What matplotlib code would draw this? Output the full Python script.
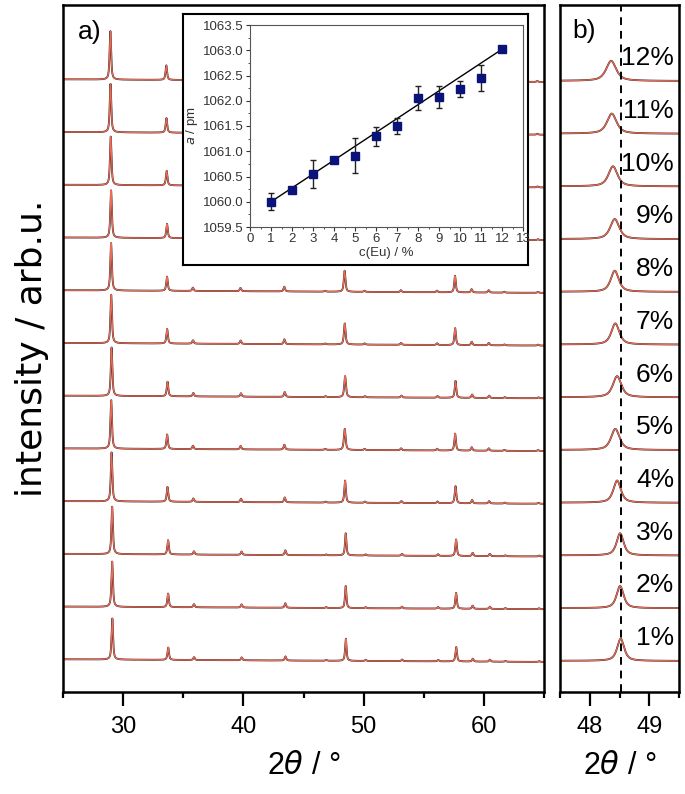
import matplotlib.pyplot as plt
import numpy as np
from matplotlib.ticker import MultipleLocator, FormatStrFormatter

plt.rcParams['font.family'] = ['Liberation Sans', 'DejaVu Sans']
plt.rcParams['mathtext.fontset'] = 'dejavusans'

# samples (Eu content, %)
conc = [1, 2, 3, 4, 5, 6, 7, 8, 9, 10, 11, 12]
labels = ['1%', '2%', '3%', '4%', '5%', '6%', '7%', '8%', '9%', '10%', '11%', '12%']

# reflections (2theta, relative height)
peak_pos = [29.1, 33.75, 35.9, 39.86, 43.5, 46.9, 48.52, 50.17, 53.2, 56.2, 57.7, 59.08, 60.5, 61.8, 64.6]
peak_rel = [1.0, 0.30, 0.07, 0.07, 0.10, 0.02, 0.55, 0.025, 0.04, 0.035, 0.35, 0.07, 0.05, 0.02, 0.02]

# per sample: height of the strongest peak, position / width / height of the (440) peak
main_height = [0.78, 0.86, 0.90, 0.93, 0.92, 0.92, 0.92, 0.90, 0.90, 0.92, 0.92, 0.92]
pos_440 = [48.52, 48.51, 48.51, 48.46, 48.43, 48.46, 48.43, 48.42, 48.42, 48.39, 48.37, 48.36]
fwhm_440 = [0.14, 0.14, 0.14, 0.15, 0.17, 0.17, 0.16, 0.16, 0.18, 0.18, 0.19, 0.20]
height_440 = [0.42, 0.42, 0.42, 0.42, 0.40, 0.40, 0.40, 0.40, 0.38, 0.38, 0.38, 0.38]
ref_440 = 48.52

# inset: lattice parameter
c_eu = [1, 2, 3, 4, 5, 6, 7, 8, 9, 10, 11, 12]
a_pm = [1060.00, 1060.24, 1060.55, 1060.82, 1060.91, 1061.30, 1061.50, 1062.05, 1062.08, 1062.24, 1062.45, 1063.02]
a_err = [0.17, 0.03, 0.27, 0.04, 0.35, 0.19, 0.15, 0.24, 0.22, 0.16, 0.25, 0.03]
fit_x = [1, 12]
fit_y = [1060.0, 1063.02]

red = '#ee6a55'
fw_main = 0.15
eta = 0.7


def profile(x, i):
    y = 0.05 - 0.05 * (x - 25) / 40
    shift = pos_440[i] - ref_440
    for p, r in zip(peak_pos, peak_rel):
        if p == ref_440:
            x0, w, h = pos_440[i], fwhm_440[i], height_440[i]
        else:
            x0, w, h = p + shift, fw_main, r * main_height[i]
        u = (x - x0) / (w / 2)
        y = y + h * (eta / (1 + u ** 2) + (1 - eta) * np.exp(-np.log(2) * u ** 2))
    return y


fig = plt.figure(figsize=(6.85, 7.94), dpi=100)
W, H = 685, 794


def box(l, t, r, b):
    return [l / W, 1 - b / H, (r - l) / W, (b - t) / H]


ax = fig.add_axes(box(63, 5, 544, 692))
axb = fig.add_axes(box(560, 5, 679, 692))

xa = np.linspace(25, 65, 4001)
xb = np.linspace(47.5, 49.5, 801)
for i in range(len(conc)):
    ya = profile(xa, i) + i
    yb = profile(xb, i) + i
    ax.plot(xa, ya, color='#222222', lw=1.3)
    ax.plot(xa, ya, color=red, lw=0.9)
    axb.plot(xb, yb, color='#222222', lw=1.3)
    axb.plot(xb, yb, color=red, lw=0.9)
    axb.text(49.42, i + 0.45, labels[i], ha='right', va='center', fontsize=19)

axb.axvline(ref_440, color='black', ls=(0, (4, 3)), lw=1.4)

for a in (ax, axb):
    a.set_ylim(-0.57, 12.46)
    a.set_yticks([])
    for s in a.spines.values():
        s.set_linewidth(1.8)
    a.tick_params(axis='x', which='major', direction='out', length=10, width=1.6,
                  labelsize=17, pad=7, top=False)
    a.tick_params(axis='x', which='minor', direction='out', length=4.5, width=1.6, top=False)
    a.set_xlabel('2$\\theta$ / °', fontsize=22, labelpad=10)

ax.set_xlim(25, 65)
ax.xaxis.set_major_locator(MultipleLocator(10))
ax.xaxis.set_minor_locator(MultipleLocator(5))
ax.set_ylabel('intensity / arb.u.', fontsize=26, family='DejaVu Sans', labelpad=10)
ax.text(0.03, 0.96, 'a)', transform=ax.transAxes, fontsize=19, va='center')

axb.set_xlim(47.5, 49.5)
axb.xaxis.set_major_locator(MultipleLocator(1))
axb.xaxis.set_minor_locator(MultipleLocator(0.5))
axb.text(0.10, 0.962, 'b)', transform=axb.transAxes, fontsize=19, va='center')

# inset with frame
frame = fig.add_axes(box(183, 14, 528, 265))
frame.set_xticks([])
frame.set_yticks([])
for s in frame.spines.values():
    s.set_linewidth(1.5)

ins = fig.add_axes(box(250, 25, 523, 227))
ins.plot(fit_x, fit_y, color='black', lw=1)
ins.errorbar(c_eu, a_pm, yerr=a_err, fmt='s', color='#0a1478', ms=5.5, ecolor='#222222',
             elinewidth=1, capsize=2, capthick=1)
ins.set_xlim(0, 13)
ins.set_ylim(1059.5, 1063.5)
ins.xaxis.set_major_locator(MultipleLocator(1))
ins.xaxis.set_minor_locator(MultipleLocator(0.5))
ins.yaxis.set_major_locator(MultipleLocator(0.5))
ins.yaxis.set_minor_locator(MultipleLocator(0.25))
ins.yaxis.set_major_formatter(FormatStrFormatter('%.1f'))
ins.tick_params(which='major', direction='out', length=3, width=0.8, labelsize=9.5,
                colors='#333333', pad=1.5)
ins.tick_params(which='minor', direction='out', length=1.5, width=0.6, colors='#333333')
for s in ins.spines.values():
    s.set_color('#555555')
    s.set_linewidth(0.8)
ins.set_xlabel('c(Eu) / %', fontsize=9.5, color='#333333', labelpad=1)
ins.set_ylabel('$a$ / pm', fontsize=9.5, color='#333333', labelpad=2)

fig.savefig('out.png', dpi=100)
